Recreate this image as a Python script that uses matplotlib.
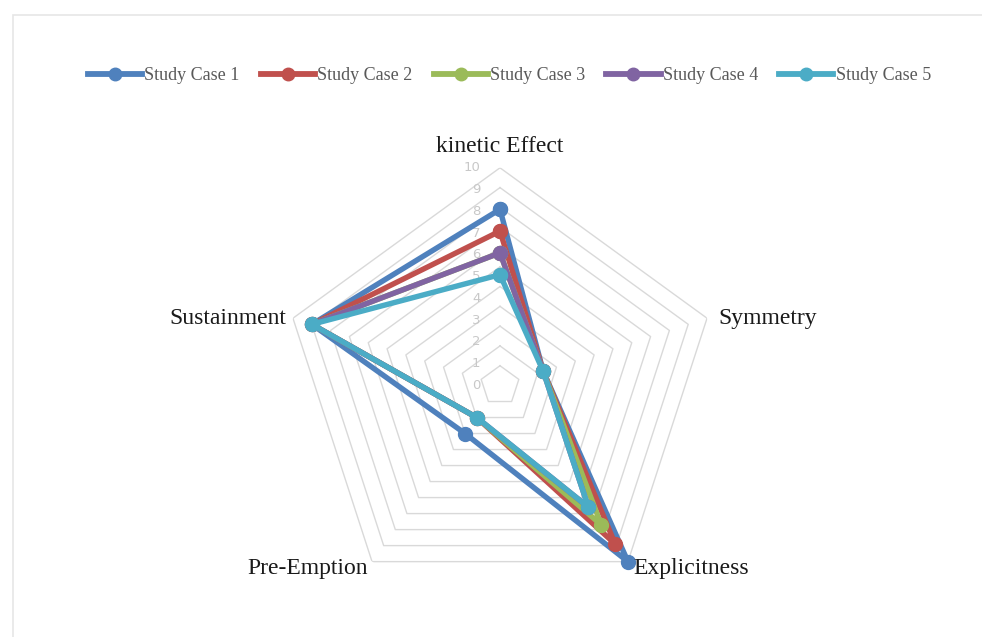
import numpy as np
import matplotlib.pyplot as plt
from matplotlib.patches import Rectangle

# axes of the radar, clockwise from the top
categories = ["kinetic Effect", "Symmetry", "Explicitness", "Pre-Emption", "Sustainment"]
series_names = ["Study Case 1", "Study Case 2", "Study Case 3", "Study Case 4", "Study Case 5"]

# scores (one list per study case, same order as categories)
case1 = [7.9, 1.3, 10, 2, 9]
case2 = [6.8, 1.3, 8.9, 1, 9]
case3 = [5.7, 1.3, 7.7, 1, 9]
case4 = [5.7, 1.3, 6.6, 1, 9]
case5 = [4.6, 1.3, 6.6, 1, 9]
series_values = [case1, case2, case3, case4, case5]

ring_levels = list(range(0, 11))
colors = ["#4F81BD", "#C0504D", "#9BBB59", "#8064A2", "#4BACC6"]

plt.rcParams["font.family"] = ["Liberation Serif", "DejaVu Serif"]

fig = plt.figure(figsize=(9.82, 6.37), dpi=100)

# light frame around the chart area (runs off right and bottom edge)
fig.patches.append(Rectangle((13 / 982, -0.1), 1.2, 1 - 15 / 637 + 0.1,
                             transform=fig.transFigure, fill=False,
                             edgecolor="#E6E6E6", linewidth=1.2, zorder=0))

# polar axes placed so the centre sits at ~ (500, 385) px
R = 217.7
ax = fig.add_axes([(500 - R) / 982, (637 - 385.5 - R) / 637, 2 * R / 982, 2 * R / 637],
                  projection="polar")
ax.set_theta_offset(np.pi / 2)
ax.set_theta_direction(-1)
ax.set_ylim(-1, 10)
ax.grid(False)
ax.spines["polar"].set_visible(False)
ax.set_xticks([])
ax.set_yticks([])
ax.patch.set_alpha(0)

n = len(categories)
angles = np.linspace(0, 2 * np.pi, n, endpoint=False)
closed = np.concatenate([angles, angles[:1]])

# pentagon grid rings
for lev in ring_levels:
    ax.plot(closed, [lev] * (n + 1), color="#D9D9D9", linewidth=1.0, zorder=1)

# radial tick labels (Excel spreads them from the centre to the outer ring)
for lev in ring_levels:
    r = lev * 1.1 - 1
    ax.annotate(str(lev), xy=(0, r), xytext=(-14, 0), textcoords="offset points",
                ha="right", va="center", fontsize=9.5, color="#C8C8C8",
                family=["DejaVu Sans"], annotation_clip=False)

# data
for name, vals, col in zip(series_names, series_values, colors):
    v = list(vals) + [vals[0]]
    ax.plot(closed, v, color=col, linewidth=3.9, marker="o", markersize=10,
            label=name, zorder=3, solid_joinstyle="round", clip_on=False)

# category labels
offsets = [((0, 15), "center", "center"),
           ((8, 0), "left", "center"),
           ((4, -5), "left", "center"),
           ((-3, -5), "right", "center"),
           ((-5, 0), "right", "center")]
for ang, cat, (off, ha, va) in zip(angles, categories, offsets):
    ax.annotate(cat, xy=(ang, 10), xytext=off, textcoords="offset points",
                ha=ha, va=va, fontsize=17, color="#1a1a1a", annotation_clip=False)

leg = fig.legend(loc="center", bbox_to_anchor=(509.5 / 982, 1 - 76 / 637), ncol=5,
                 frameon=False, fontsize=13, handlelength=3.0, handletextpad=0.15,
                 columnspacing=1.15, labelcolor="#595959")
for h in leg.legend_handles:
    h.set_markersize(9)
    h.set_linewidth(4.2)

fig.savefig("out.png", dpi=100)
